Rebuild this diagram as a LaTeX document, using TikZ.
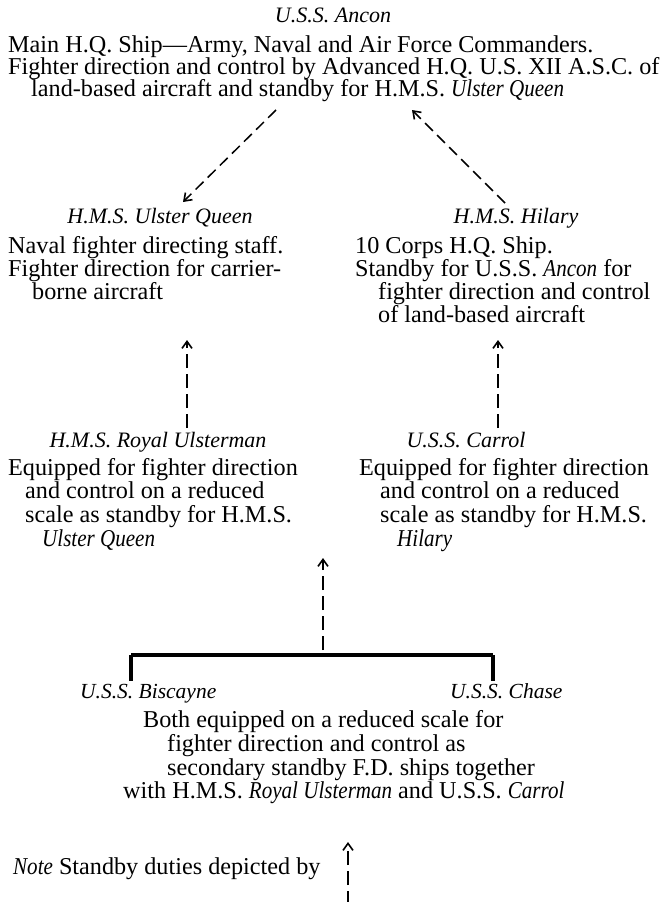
\documentclass[tikz,border=0pt]{standalone}
\usepackage{fontspec}
\setmainfont{Liberation Serif}
\newfontfamily\condfam{Liberation Serif}[FakeStretch=0.87]
\usetikzlibrary{arrows.meta}
\frenchspacing
\newcommand\shipit[1]{{\condfam\itshape #1}}
\begin{document}
\begin{tikzpicture}[x=1pt,y=-1pt,
  txt/.style={inner sep=0pt, font=\fontsize{24.2}{23}\selectfont},
  hd/.style={inner sep=0pt, anchor=base, font=\fontsize{22}{23}\selectfont\itshape},
  lt/.style={txt, anchor=base west},
  ct/.style={txt, anchor=base},
  diag/.style={line width=1.5pt, dash pattern=on 11pt off 6pt, -{Straight Barb[length=7pt,width=10pt,line width=1.6pt]}},
  vert/.style={line width=1.5pt, dash pattern=on 14pt off 6pt, -{Straight Barb[length=7pt,width=10pt,line width=1.6pt]}},
  bar/.style={line width=3.2pt}]
\useasboundingbox (0,0) rectangle (666,902);

% U.S.S. Ancon
\node[hd] (ancon) at (333,23) {U.S.S. Ancon};
\node[lt] (a1) at (8,52) {Main H.Q. Ship---Army, Naval and Air Force Commanders.};
\node[lt] (a2) at (8,74) {Fighter direction and control by Advanced H.Q. U.S. XII A.S.C. of};
\node[lt] (a3) at (31,96) {land-based aircraft and standby for H.M.S. \shipit{Ulster Queen}};

% H.M.S. Ulster Queen
\node[hd] (uq) at (160,223) {H.M.S. Ulster Queen};
\node[lt] (uq1) at (8,253) {Naval fighter directing staff.};
\node[lt] (uq2) at (8,276) {Fighter direction for carrier-};
\node[lt] (uq3) at (32,299) {borne aircraft};

% H.M.S. Hilary
\node[hd] (hi) at (516,223) {H.M.S. Hilary};
\node[lt] (hi1) at (355,253) {10 Corps H.Q. Ship.};
\node[lt] (hi2) at (355,276) {Standby for U.S.S. \shipit{Ancon} for};
\node[lt] (hi3) at (378,299) {fighter direction and control};
\node[lt] (hi4) at (378,322) {of land-based aircraft};

% H.M.S. Royal Ulsterman
\node[hd] (ru) at (158,447) {H.M.S. Royal Ulsterman};
\node[lt] (ru1) at (8,475) {Equipped for fighter direction};
\node[lt] (ru2) at (25,498) {and control on a reduced};
\node[lt] (ru3) at (25,522) {scale as standby for H.M.S.};
\node[lt] (ru4) at (42,546) {\shipit{Ulster Queen}};

% U.S.S. Carrol
\node[hd] (ca) at (466,447) {U.S.S. Carrol};
\node[lt] (ca1) at (359,475) {Equipped for fighter direction};
\node[lt] (ca2) at (380,498) {and control on a reduced};
\node[lt] (ca3) at (380,522) {scale as standby for H.M.S.};
\node[lt] (ca4) at (397,546) {\shipit{Hilary}};

% Biscayne / Chase
\node[hd, anchor=base west, font=\fontsize{21.5}{23}\selectfont\itshape] (bi) at (80,698) {U.S.S. Biscayne};
\node[hd, anchor=base west, font=\fontsize{21.5}{23}\selectfont\itshape] (ch) at (450,698) {U.S.S. Chase};
\node[lt] (b1) at (143,727) {Both equipped on a reduced scale for};
\node[lt] (b2) at (167,751) {fighter direction and control as};
\node[lt] (b3) at (167,775) {secondary standby F.D. ships together};
\node[lt] (b4) at (123,798) {with H.M.S. \shipit{Royal Ulsterman} and U.S.S. \shipit{Carrol}};

% Note
\node[lt] (note) at (13,874) {\shipit{Note} Standby duties depicted by};

% connectors
\coordinate (l1) at (276,110);
\coordinate (l2) at (183,202);
\coordinate (r1) at (505,203);
\coordinate (r2) at (412,110);
\draw[diag] (l1) -- (l2);
\draw[diag] (r1) -- (r2);

\coordinate (v1b) at (187,428);
\coordinate (v1t) at (187,340);
\coordinate (v2b) at (498,428);
\coordinate (v2t) at (498,340);
\draw[vert] (v1b) -- (v1t);
\draw[vert] (v2b) -- (v2t);

\coordinate (cb) at (323,650);
\coordinate (ct) at (323,558);
\draw[vert] (cb) -- (ct);

\coordinate (barl) at (131,655);
\coordinate (barr) at (493,655);
\coordinate (tl) at (131,681);
\coordinate (tr) at (493,681);
\draw[bar] (barl) -- (barr);
\draw[bar] (barl) -- (tl);
\draw[bar] (barr) -- (tr);

\coordinate (nb) at (348,905);
\coordinate (nt) at (348,842);
\draw[vert] (nb) -- (nt);
\end{tikzpicture}
\end{document}
